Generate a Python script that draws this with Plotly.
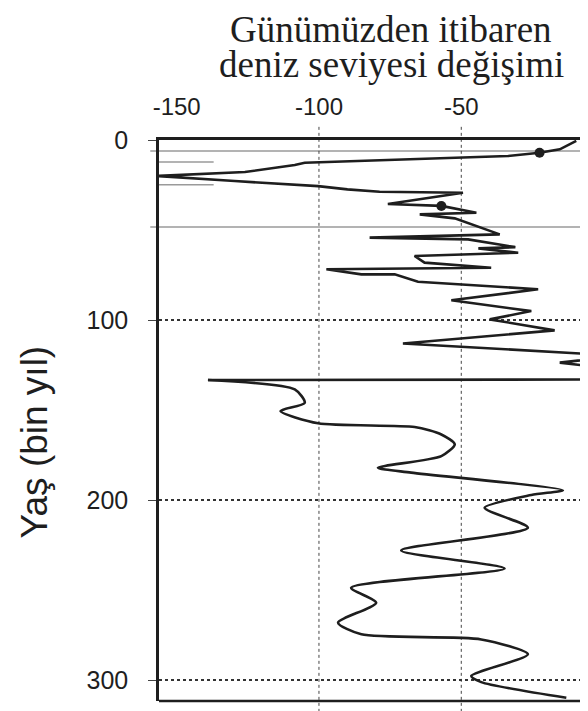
import plotly.graph_objects as go

# ---- data (sea level change in m vs age in kyr) ----
upper_level = [-9.6, -12.5, -15.4, -22.5, -33.6, -105, -108.5, -126, -157, -129.6, -100.3,
               -90, -78.7, -49.4, -75.8, -57, -44.7, -64.6, -52.3, -36.5, -82.2, -47.6,
               -31, -44, -30, -66.4, -62.9, -39.5, -97.4, -85.1, -73.4, -65.2, -23, -53.5,
               -25.4, -40, -17.2, -70.5, -3.1, 2, -15.4, 3, 2, -139]
upper_age = [0.5, 2.8, 5.2, 7.1, 8.9, 12.6, 13.9, 17.8, 20, 22.8, 25.6,
             27.4, 28.7, 29.3, 35.5, 36.6, 40.4, 41.3, 43.5, 52.4, 54.2, 55.2,
             59.5, 60.2, 62.6, 64.4, 68.1, 70.9, 71.8, 74.6, 74.6, 78.7, 82.9, 89,
             95, 99.6, 105.7, 113, 119, 120.5, 123.6, 127, 133, 133.3]

lower_level = [-139, -108.5, -105, -113.5, -100.3, -66.4, -57, -52.3, -57, -79.3, -67.6,
               -14.3, -25.4, -41.8, -26.6, -71.1, -34.8, -88.7, -79.9, -93.3, -85.1,
               -43, -26.6, -46.5, -43, -13.1]
lower_age = [133.3, 138.5, 145.9, 150.5, 157.3, 159.4, 163.5, 169, 175.5, 182, 184.7,
             194.5, 197.1, 204.2, 215.3, 227.9, 237.9, 248.6, 256.9, 268, 274.5,
             277.3, 285.6, 297.6, 301, 309.7]

dot_level = [-22.5, -57]
dot_age = [7.1, 36.6]

gray_full_ages = [6.1, 48.3]
gray_short_ages = [12.2, 24.8]
gray_short_end = -137

x_tick_vals = [-150, -100, -50]
x_tick_text = ["-150", "-100", "-50"]
x_zero_label = "0"
x_grid_vals = [-100, -50]
y_tick_vals = [0, 100, 200, 300]
y_tick_text = ["0", "100", "200", "300"]

title_lines = ["Günümüzden itibaren", "deniz seviyesi değişimi"]
y_title = "Yaş (bin yıl)"

X_RANGE = [-156.2, -2.67]
Y_RANGE = [311.5, 0]

INK = "#1e1e1e"

fig = go.Figure()
fig.add_trace(go.Scatter(x=upper_level, y=upper_age, mode="lines",
                         line=dict(color=INK, width=2.6, shape="linear"),
                         showlegend=False, hoverinfo="skip"))
fig.add_trace(go.Scatter(x=lower_level, y=lower_age, mode="lines",
                         line=dict(color=INK, width=2.6, shape="spline", smoothing=0.7),
                         showlegend=False, hoverinfo="skip"))
fig.add_trace(go.Scatter(x=dot_level, y=dot_age, mode="markers",
                         marker=dict(color=INK, size=10),
                         showlegend=False, hoverinfo="skip"))

shapes = []
for a in gray_full_ages:
    shapes.append(dict(type="line", xref="paper", yref="y", x0=-0.02, x1=1, y0=a, y1=a,
                       line=dict(color="#9a9a9a", width=1.5), layer="below"))
for a in gray_short_ages:
    shapes.append(dict(type="line", xref="x", yref="y", x0=X_RANGE[0], x1=gray_short_end,
                       y0=a, y1=a, line=dict(color="#9a9a9a", width=1.5), layer="below"))
for v in x_grid_vals:
    shapes.append(dict(type="line", xref="x", yref="paper", x0=v, x1=v, y0=-0.03, y1=1.026,
                       line=dict(color="#444", width=1, dash="dot"), layer="below"))
# bottom frame line
shapes.append(dict(type="line", xref="paper", yref="paper", x0=0, x1=1, y0=0, y1=0,
                   line=dict(color=INK, width=2.5)))

annotations = [
    dict(text=title_lines[0], xref="paper", yref="paper", x=0.531, y=1.197,
         xanchor="center", yanchor="middle", showarrow=False, borderpad=0,
         font=dict(family="Liberation Serif", size=37, color=INK)),
    dict(text=title_lines[1], xref="paper", yref="paper", x=0.531, y=1.134,
         xanchor="center", yanchor="middle", showarrow=False, borderpad=0,
         font=dict(family="Liberation Serif", size=37, color=INK)),
    dict(text=y_title, xref="paper", yref="paper", x=-0.286, y=0.461,
         xanchor="center", yanchor="middle", showarrow=False, textangle=-90,
         font=dict(family="Liberation Sans", size=37, color=INK)),
    dict(text=x_zero_label, xref="paper", yref="paper", x=1.0174, y=1.055,
         xanchor="center", yanchor="middle", showarrow=False,
         font=dict(family="Liberation Sans", size=24, color=INK)),
]

fig.update_layout(
    width=588, height=711,
    margin=dict(l=151, r=0, t=132, b=18),
    paper_bgcolor="white", plot_bgcolor="white",
    shapes=shapes, annotations=annotations,
    xaxis=dict(side="top", range=X_RANGE, tickvals=x_tick_vals, ticktext=x_tick_text,
               ticks="", showgrid=False, zeroline=False, showline=True, linewidth=2.5,
               linecolor=INK, ticklabelstandoff=13,
               tickfont=dict(family="Liberation Sans", size=24, color=INK)),
    yaxis=dict(range=Y_RANGE, tickvals=y_tick_vals, ticktext=y_tick_text,
               ticks="outside", ticklen=8, tickwidth=1, tickcolor="#444",
               showgrid=True, gridcolor="#333", gridwidth=2, griddash="dot",
               zeroline=False, showline=True, linewidth=2.5, linecolor=INK,
               ticklabelstandoff=15,
               tickfont=dict(family="Liberation Sans", size=25, color=INK)),
)

fig.write_html("out.html")
